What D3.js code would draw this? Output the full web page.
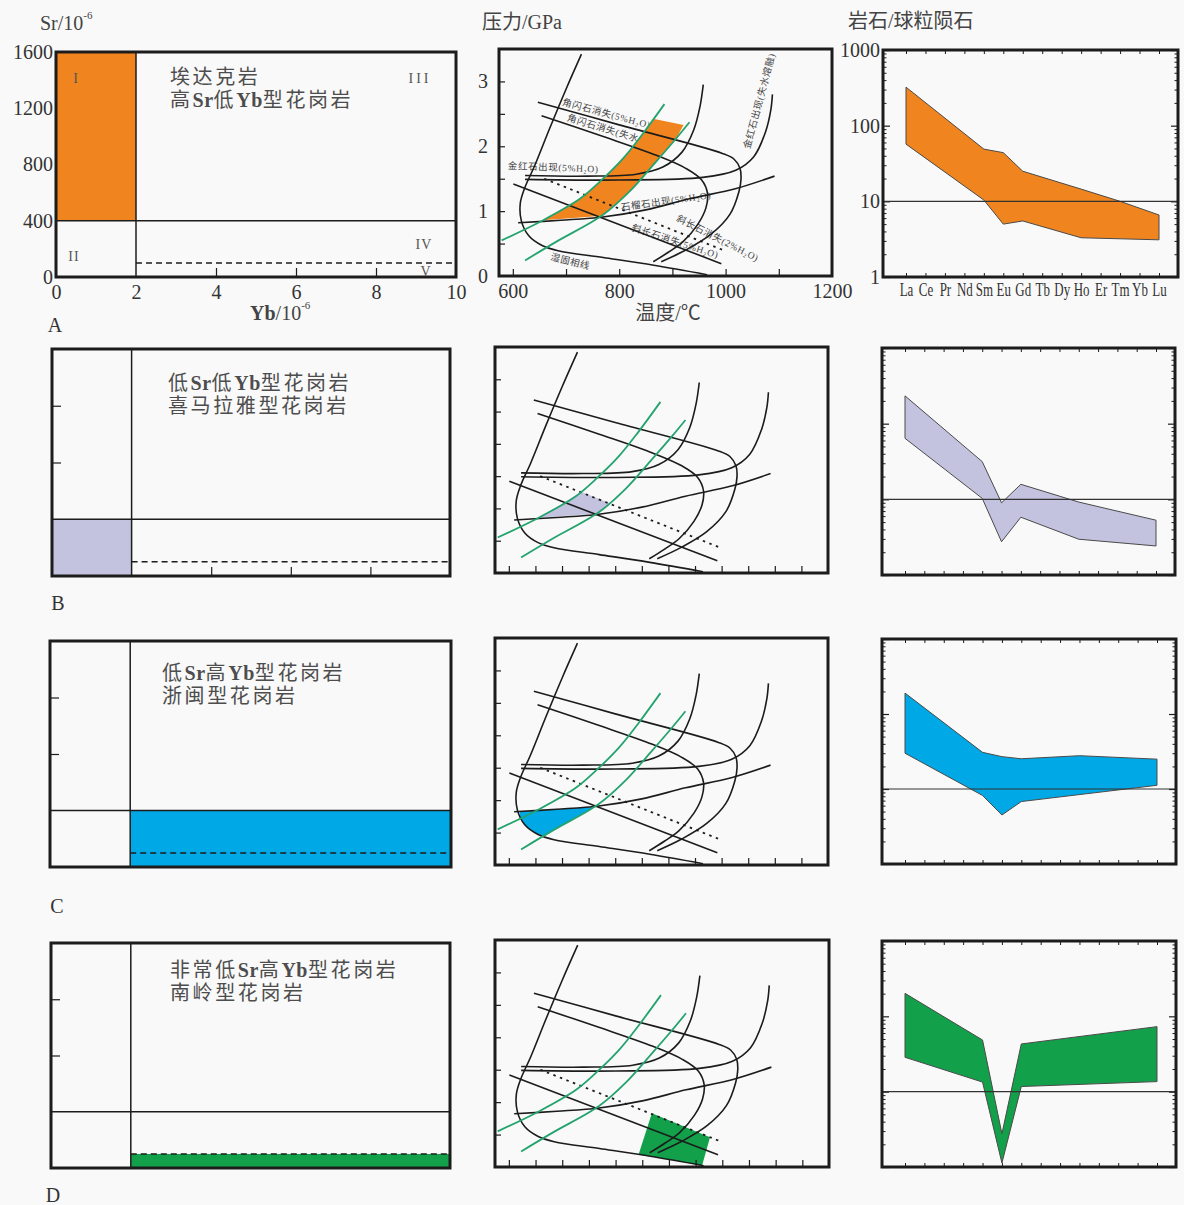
<!DOCTYPE html>
<html>
<head>
<meta charset="utf-8">
<script src="https://cdn.jsdelivr.net/npm/d3@7/dist/d3.min.js"></script>
<style>
  html, body { margin: 0; padding: 0; background: #f9f9f9; }
  svg { display: block; }
</style>
</head>
<body>
<svg id="fig" width="1184" height="1205"></svg>
<script>
// ===================== data =====================
// Granite groups (rows)
const groupLetters = ["A", "B", "C", "D"];
const groupColors = ["#f0851f", "#c3c3df", "#00a9e6", "#12a04a"];
const groupTitles = [
  ["埃达克岩", "高Sr低Yb型花岗岩"],
  ["低Sr低Yb型花岗岩", "喜马拉雅型花岗岩"],
  ["低Sr高Yb型花岗岩", "浙闽型花岗岩"],
  ["非常低Sr高Yb型花岗岩", "南岭型花岗岩"]
];

// Sr–Yb diagram
const ybTicks = [0, 2, 4, 6, 8, 10];
const srTicks = [0, 400, 800, 1200, 1600];
const ybInnerTicks = [4, 6, 8];
const srInnerTicks = [800, 1200];
const ybLimit = 2;
const srLimit = 400;
const srLowLimit = 100;
// field occupied by each group: [Yb min, Yb max, Sr min, Sr max]
const groupFields = [
  [0, 2, 400, 1600],
  [0, 2, 0, 400],
  [2, 10, 0, 400],
  [2, 10, 0, 100]
];
const fieldNames = ["I", "II", "III", "IV", "V"];
const fieldYb = [0.5, 0.45, 9.1, 9.2, 9.25];
const fieldSr = [1410, 145, 1410, 230, 40];

// P–T diagram (temperature °C, pressure GPa)
const tempTicks = [600, 800, 1000, 1200];
const pressTicks = [0, 1, 2, 3];
const wetSolidus = [[729, 3.42], [700, 2.88], [669, 2.27], [641, 1.70], [622, 1.35], [614, 1.12],
  [616, 0.85], [630, 0.62], [655, 0.47], [685, 0.39], [770, 0.285], [865, 0.165], [965, 0.02]];
const amphOutWet = [[647, 2.68], [800, 2.33], [994, 1.89], [1016, 1.80], [1027, 1.66], [1029, 1.50],
  [1025, 1.30], [1008, 0.95], [972, 0.64], [925, 0.40], [879, 0.22]];
const amphOutDry = [[654, 2.47], [770, 2.15], [870, 1.86], [925, 1.66], [955, 1.48], [966, 1.27],
  [963, 1.05], [948, 0.80], [920, 0.53], [893, 0.37], [864, 0.22]];
const rutileInWet = [[623, 1.55], [740, 1.54], [832, 1.57], [882, 1.68], [918, 1.91], [940, 2.25],
  [952, 2.62], [958, 2.95]];
const rutileInDry = [[623, 1.49], [800, 1.48], [957, 1.52], [1019, 1.63], [1053, 1.84], [1075, 2.22],
  [1085, 2.56], [1088, 2.80]];
const garnetIn = [[610, 0.82], [690, 0.86], [769, 0.91], [850, 1.02], [932, 1.19], [1020, 1.35], [1092, 1.54]];
const plagOut5 = [[601, 1.42], [992, 0.19]];
const plagOut2 = [[659, 1.50], [995, 0.40]];
const geothermA = [[579, 0.55], [657, 0.86], [726, 1.19], [763, 1.45], [807, 1.81], [844, 2.19], [885, 2.65]];
const geothermB = [[623, 0.24], [682, 0.53], [769, 0.94], [819, 1.30], [869, 1.76], [907, 2.12], [932, 2.37]];
const ptFields = [
  [[657, 0.86], [769, 0.93], [819, 1.30], [869, 1.76], [907, 2.12], [921, 2.33], [866, 2.42],
   [844, 2.19], [807, 1.81], [763, 1.45], [726, 1.19]],
  [[657, 0.855], [700, 1.07], [736, 1.26], [790, 1.08], [768, 0.92]],
  [[620, 0.82], [690, 0.855], [760, 0.895], [722, 0.716], [692, 0.565], [668, 0.45], [655, 0.47],
   [640, 0.54], [628, 0.64], [621, 0.74]],
  [[868, 0.83], [977, 0.46], [962, 0.02], [900, 0.12], [843, 0.19]]
];
const ptLabels = [
  { text: "角闪石消失(5%H₂O)", t: 776, p: 2.50, angle: 15 },
  { text: "角闪石消失(失水熔融)", t: 791, p: 2.22, angle: 17 },
  { text: "金红石出现(5%H₂O)", t: 676, p: 1.67, angle: 2 },
  { text: "石榴石出现(5%H₂O)", t: 888, p: 1.15, angle: -8 },
  { text: "斜长石消失(2%H₂O)", t: 985, p: 0.58, angle: 27 },
  { text: "斜长石消失(5%H₂O)", t: 905, p: 0.53, angle: 18 },
  { text: "湿固相线", t: 708, p: 0.22, angle: 14 },
  { text: "金红石出现(失水熔融)", t: 1064, p: 2.70, angle: -75 }
];

// Chondrite-normalised REE patterns
const reeElements = ["La", "Ce", "Pr", "Nd", "Sm", "Eu", "Gd", "Tb", "Dy", "Ho", "Er", "Tm", "Yb", "Lu"];
const reeTicks = [1, 10, 100, 1000];
const reeReference = 10;
const reeUpper = [
  [["La", 323], ["Sm", 49], ["Eu", 44], ["Gd", 25], ["Ho", 14.5], ["Tm", 10], ["Lu", 6.6]],
  [["La", 233], ["Sm", 31.5], ["Eu", 9.0], ["Gd", 15.8], ["Ho", 9.2], ["Lu", 5.3]],
  [["La", 190], ["Sm", 30.8], ["Eu", 27], ["Gd", 25.3], ["Ho", 27.8], ["Lu", 25]],
  [["La", 202], ["Sm", 48.5], ["Eu", 2.76], ["Gd", 43], ["Lu", 73]]
];
const reeLower = [
  [["La", 57], ["Sm", 10.4], ["Eu", 5.0], ["Gd", 5.5], ["Ho", 3.3], ["Lu", 3.1]],
  [["La", 64], ["Sm", 10.3], ["Eu", 2.75], ["Gd", 5.8], ["Ho", 2.97], ["Lu", 2.42]],
  [["La", 30], ["Sm", 8.2], ["Eu", 4.5], ["Gd", 6.8], ["Lu", 11.2]],
  [["La", 28.6], ["Sm", 13.4], ["Eu", 1.13], ["Gd", 11.7], ["Lu", 13.6]]
];

// ===================== layout =====================
const SERIF = "'Liberation Serif', 'DejaVu Serif', 'Noto Sans CJK SC', serif";
const MIXED = "'Liberation Serif', 'Noto Sans CJK SC', sans-serif";
const INK = "#1c1c1c";
const TEXT = "#333";
const intFmt = d3.format("d");

const boxes = {
  sryb: [
    { x0: 56, x1: 456, y0: 52, y1: 277 },
    { x0: 52, x1: 450, y0: 349, y1: 576 },
    { x0: 50, x1: 451, y0: 641, y1: 867 },
    { x0: 51, x1: 450, y0: 943, y1: 1168 }
  ],
  pt: [
    { x0: 499, x1: 832, y0: 49, y1: 276 },
    { x0: 495, x1: 828, y0: 347, y1: 573 },
    { x0: 495, x1: 828, y0: 638, y1: 865 },
    { x0: 495, x1: 829, y0: 940, y1: 1167 }
  ],
  ree: [
    { x0: 883, x1: 1178, y0: 50, y1: 277 },
    { x0: 882, x1: 1175, y0: 348, y1: 575 },
    { x0: 882, x1: 1176, y0: 639, y1: 864 },
    { x0: 882, x1: 1176, y0: 941, y1: 1167 }
  ]
};
const titlePos = [{ x: 170, y: 77 }, { x: 168, y: 383 }, { x: 162, y: 673 }, { x: 170, y: 970 }];
const letterPos = [{ x: 55, y: 325 }, { x: 58, y: 603 }, { x: 57, y: 906 }, { x: 53, y: 1195 }];

const svg = d3.select("#fig");
svg.append("rect").attr("width", 1184).attr("height", 1205).attr("fill", "#f9f9f9");

function styleLabels(a, size) {
  a.attr("font-family", SERIF).attr("font-size", size);
  a.select(".domain").remove();
  a.selectAll("line").remove();
  a.selectAll("text").attr("fill", TEXT);
  return a;
}
function styleTicks(a, w) {
  a.select(".domain").remove();
  a.selectAll("text").remove();
  a.selectAll("line").attr("stroke", INK).attr("stroke-width", w || 1.2);
  return a;
}
function frame(g, b) {
  g.append("rect").attr("x", b.x0).attr("y", b.y0)
    .attr("width", b.x1 - b.x0).attr("height", b.y1 - b.y0)
    .attr("fill", "none").attr("stroke", INK).attr("stroke-width", 3);
}
// Chinese characters are set with wide tracking, Latin element symbols tight and bold
function addRuns(tspanParent, s) {
  const runs = s.match(/[A-Za-z]+|[^A-Za-z]+/g);
  runs.forEach(r => {
    const latin = /^[A-Za-z]+$/.test(r);
    tspanParent.append("tspan")
      .attr("letter-spacing", latin ? 0.5 : 2.6)
      .attr("font-weight", latin ? "bold" : "normal")
      .text(r);
  });
}

// ===================== Sr–Yb panels =====================
function drawSrYb(i) {
  const b = boxes.sryb[i];
  const g = svg.append("g");
  const x = d3.scaleLinear().domain([0, 10]).range([b.x0, b.x1]);
  const y = d3.scaleLinear().domain([0, 1600]).range([b.y1, b.y0]);

  styleTicks(g.append("g").attr("transform", `translate(0,${b.y1})`)
    .call(d3.axisBottom(x).tickValues(ybInnerTicks).tickSize(-9)));
  styleTicks(g.append("g").attr("transform", `translate(${b.x0},0)`)
    .call(d3.axisLeft(y).tickValues(srInnerTicks).tickSize(-9)));

  const f = groupFields[i];
  g.append("rect")
    .attr("x", x(f[0])).attr("y", y(f[3]))
    .attr("width", x(f[1]) - x(f[0])).attr("height", y(f[2]) - y(f[3]))
    .attr("fill", groupColors[i]);

  g.append("line").attr("x1", x(ybLimit)).attr("x2", x(ybLimit)).attr("y1", y(0)).attr("y2", y(1600))
    .attr("stroke", INK).attr("stroke-width", 1.5);
  g.append("line").attr("x1", x(0)).attr("x2", x(10)).attr("y1", y(srLimit)).attr("y2", y(srLimit))
    .attr("stroke", INK).attr("stroke-width", 1.5);
  g.append("line").attr("x1", x(ybLimit)).attr("x2", x(10)).attr("y1", y(srLowLimit)).attr("y2", y(srLowLimit))
    .attr("stroke", INK).attr("stroke-width", 1.5).attr("stroke-dasharray", "6,4");

  frame(g, b);

  const t = g.append("text").attr("font-family", MIXED).attr("font-size", 20).attr("fill", "#4d4d4d");
  groupTitles[i].forEach((s, k) => {
    const line = t.append("tspan").attr("x", titlePos[i].x).attr("y", titlePos[i].y + k * 23)
      .attr("dominant-baseline", "central");
    addRuns(line, s);
  });

  g.append("text").attr("x", letterPos[i].x).attr("y", letterPos[i].y)
    .attr("font-family", SERIF).attr("font-size", 20).attr("fill", TEXT)
    .attr("text-anchor", "middle").attr("dominant-baseline", "central").text(groupLetters[i]);

  if (i === 0) {
    styleLabels(g.append("g").attr("transform", `translate(0,${b.y1})`)
      .call(d3.axisBottom(x).tickValues(ybTicks).tickFormat(intFmt).tickSize(0).tickPadding(8)), 20);
    styleLabels(g.append("g").attr("transform", `translate(${b.x0},0)`)
      .call(d3.axisLeft(y).tickValues(srTicks).tickFormat(intFmt).tickSize(0).tickPadding(3)), 20);

    g.selectAll(".field").data(fieldNames).join("text")
      .attr("x", (d, k) => x(fieldYb[k])).attr("y", (d, k) => y(fieldSr[k]))
      .attr("font-family", SERIF).attr("font-size", 14).attr("fill", "#555")
      .attr("letter-spacing", d => d === "III" ? 3 : 1)
      .attr("text-anchor", "middle").attr("dominant-baseline", "central").text(d => d);

    const st = g.append("text").attr("x", 40).attr("y", 23).attr("font-family", SERIF)
      .attr("font-size", 20).attr("fill", "#444").attr("dominant-baseline", "central");
    st.append("tspan").text("Sr/10");
    st.append("tspan").attr("font-size", 11).attr("dy", -8).text("-6");

    const yt = g.append("text").attr("x", 250).attr("y", 313).attr("font-family", SERIF)
      .attr("font-size", 20).attr("fill", "#444").attr("dominant-baseline", "central");
    yt.append("tspan").attr("font-weight", "bold").text("Yb");
    yt.append("tspan").text("/10");
    yt.append("tspan").attr("font-size", 11).attr("dy", -8).text("-6");
  }
}

// ===================== P–T panels =====================
function drawPT(i) {
  const b = boxes.pt[i];
  const g = svg.append("g");
  const x = d3.scaleLinear().domain([574, 1200]).range([b.x0, b.x1]);
  const y = d3.scaleLinear().domain([0, 3.5]).range([b.y1, b.y0]);
  const clipId = "pt-clip-" + i;
  g.append("clipPath").attr("id", clipId).append("rect")
    .attr("x", b.x0).attr("y", b.y0).attr("width", b.x1 - b.x0).attr("height", b.y1 - b.y0);
  const inner = g.append("g").attr("clip-path", `url(#${clipId})`);

  const tempMinor = i === 0 ? d3.range(600, 1101, 100) : d3.range(600, 1151, 50);
  styleTicks(g.append("g").attr("transform", `translate(0,${b.y1})`)
    .call(d3.axisBottom(x).tickValues(tempMinor).tickSize(-7)));
  styleTicks(g.append("g").attr("transform", `translate(${b.x0},0)`)
    .call(d3.axisLeft(y).tickValues(d3.range(0.5, 3.01, 0.5)).tickSize(-6)));

  if (i === 0) {
    inner.selectAll(".lab").data(ptLabels).join("text")
      .attr("transform", d => `translate(${x(d.t)},${y(d.p)}) rotate(${d.angle})`)
      .attr("font-family", MIXED).attr("font-size", 9.5).attr("letter-spacing", 0.6)
      .attr("fill", "#444").attr("text-anchor", "middle").attr("dominant-baseline", "central")
      .text(d => d.text);
  }

  inner.append("path").datum(ptFields[i])
    .attr("d", d3.line().x(d => x(d[0])).y(d => y(d[1])).curve(d3.curveLinearClosed))
    .attr("fill", groupColors[i]).attr("stroke", "none");

  const smooth = d3.line().x(d => x(d[0])).y(d => y(d[1])).curve(d3.curveCatmullRom.alpha(0.5));
  const blackCurves = [wetSolidus, amphOutWet, amphOutDry, rutileInWet, rutileInDry, garnetIn, plagOut5];
  inner.selectAll(".bk").data(blackCurves).join("path")
    .attr("d", smooth).attr("fill", "none").attr("stroke", INK).attr("stroke-width", 1.6);
  inner.append("path").datum(plagOut2).attr("d", smooth).attr("fill", "none")
    .attr("stroke", INK).attr("stroke-width", 1.8).attr("stroke-dasharray", "2.5,4.5");
  inner.selectAll(".gr").data([geothermA, geothermB]).join("path")
    .attr("d", smooth).attr("fill", "none").attr("stroke", "#25a36f").attr("stroke-width", 1.8);

  frame(g, b);

  if (i === 0) {
    styleLabels(g.append("g").attr("transform", `translate(0,${b.y1})`)
      .call(d3.axisBottom(x).tickValues(tempTicks).tickFormat(intFmt).tickSize(0).tickPadding(8)), 20);
    styleLabels(g.append("g").attr("transform", `translate(${b.x0},0)`)
      .call(d3.axisLeft(y).tickValues(pressTicks).tickFormat(intFmt).tickSize(0).tickPadding(11)), 20);
    g.append("text").attr("x", 482).attr("y", 22).attr("font-family", MIXED).attr("font-size", 20)
      .attr("fill", "#444").attr("dominant-baseline", "central").text("压力/GPa");
    g.append("text").attr("x", 668).attr("y", 313).attr("font-family", MIXED).attr("font-size", 20)
      .attr("fill", "#444").attr("text-anchor", "middle").attr("dominant-baseline", "central").text("温度/℃");
  }
}

// ===================== REE panels =====================
function drawREE(i) {
  const b = boxes.ree[i];
  const g = svg.append("g");
  const x = d3.scalePoint().domain(reeElements).range([b.x0 + 23, b.x1 - 19]);
  const y = d3.scaleLog().domain([1, 1000]).range([b.y1, b.y0]);
  const minor = [];
  [1, 10, 100].forEach(d => d3.range(2, 10).forEach(m => minor.push(d * m)));

  styleTicks(g.append("g").attr("transform", `translate(${b.x0},0)`)
    .call(d3.axisLeft(y).tickValues(minor).tickSize(-3.5)), 1);
  styleTicks(g.append("g").attr("transform", `translate(${b.x0},0)`)
    .call(d3.axisLeft(y).tickValues(reeTicks).tickSize(-7)), 1.2);
  styleTicks(g.append("g").attr("transform", `translate(${b.x1},0)`)
    .call(d3.axisRight(y).tickValues(minor).tickSize(-3.5)), 1);
  styleTicks(g.append("g").attr("transform", `translate(${b.x1},0)`)
    .call(d3.axisRight(y).tickValues(reeTicks).tickSize(-7)), 1.2);
  styleTicks(g.append("g").attr("transform", `translate(0,${b.y1})`)
    .call(d3.axisBottom(x).tickSize(-4)), 1);
  styleTicks(g.append("g").attr("transform", `translate(0,${b.y0})`)
    .call(d3.axisTop(x).tickSize(-4)), 1);

  const pts = reeUpper[i].map(([e, v]) => [x(e), y(v)])
    .concat(reeLower[i].slice().reverse().map(([e, v]) => [x(e), y(v)]));
  g.append("path").datum(pts).attr("d", d3.line().curve(d3.curveLinearClosed))
    .attr("fill", groupColors[i]).attr("stroke", "#4a4a4a").attr("stroke-width", 1)
    .attr("stroke-linejoin", "round");

  g.append("line").attr("x1", b.x0).attr("x2", b.x1).attr("y1", y(reeReference)).attr("y2", y(reeReference))
    .attr("stroke", "#333").attr("stroke-width", 1.1);

  frame(g, b);

  if (i === 0) {
    styleLabels(g.append("g").attr("transform", `translate(${b.x0},0)`)
      .call(d3.axisLeft(y).tickValues(reeTicks).tickFormat(intFmt).tickSize(0).tickPadding(3)), 20);
    // element symbols are set condensed so the row fits under the ticks
    const xl = styleLabels(g.append("g").attr("transform", `translate(0,${b.y1})`)
      .call(d3.axisBottom(x).tickSize(0).tickPadding(6)), 18);
    xl.selectAll("text").attr("transform", "scale(0.72,1)");
    g.append("text").attr("x", 848).attr("y", 21).attr("font-family", MIXED).attr("font-size", 20)
      .attr("fill", "#444").attr("dominant-baseline", "central").text("岩石/球粒陨石");
  }
}

for (let i = 0; i < 4; i++) {
  drawSrYb(i);
  drawPT(i);
  drawREE(i);
}
</script>
</body>
</html>
